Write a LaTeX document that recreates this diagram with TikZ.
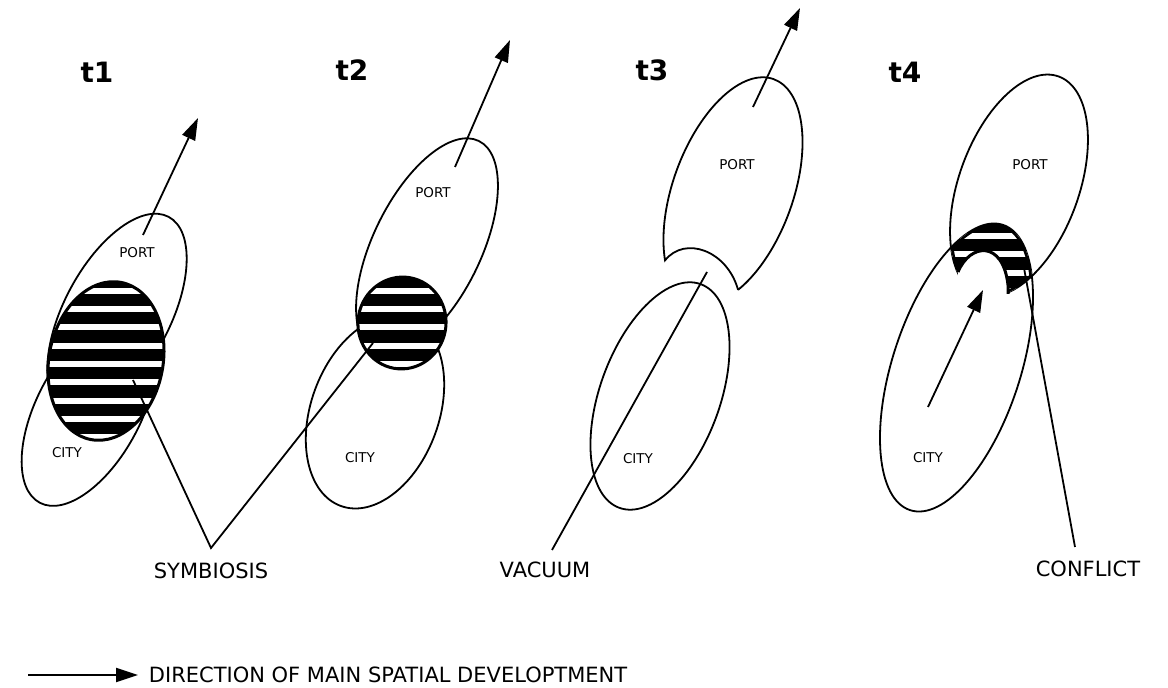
\documentclass[tikz,border=0pt]{standalone}
\usepackage{fontspec}
\setmainfont{DejaVu Sans}
\usetikzlibrary{arrows.meta,positioning}
\newcommand{\bands}{\foreach \k in {0,...,12} \draw[band] (0,452-18.3*\k) -- (1168,452-18.3*\k);}
\begin{document}
\begin{tikzpicture}[x=1pt,y=1pt,line width=1.8pt,
lbl/.style={inner sep=0pt,font=\fontsize{21}{24}\selectfont},
tag/.style={inner sep=0pt,font=\fontsize{13.5}{16}\selectfont},
stage/.style={inner sep=0pt,font=\bfseries\fontsize{28}{32}\selectfont},
arr/.style={-{Triangle[length=22pt,width=14pt]}},
band/.style={white,line width=6pt},
rim/.style={line width=3pt}]
\useasboundingbox (0,0) rectangle (1168,688);
\node[stage] (tA) at (97,616) {t1};
\node[stage] (tB) at (352,618) {t2};
\node[stage] (tC) at (652,618) {t3};
\node[stage] (tD) at (905,616) {t4};
\draw[rotate around={62:(117,374)}] (117,374) ellipse [x radius=110,y radius=53];
\draw[rotate around={62:(89,278)}] (89,278) ellipse [x radius=105,y radius=52];
\fill[rotate around={79:(106,327)}] (106,327) ellipse [x radius=80,y radius=57];
\begin{scope}\clip[rotate around={79:(106,327)}] (106,327) ellipse [x radius=80,y radius=57];\bands\end{scope}
\draw[rim,rotate around={79:(106,327)}] (106,327) ellipse [x radius=80,y radius=57];
\draw[rotate around={64:(427,441)}] (427,441) ellipse [x radius=118,y radius=54];
\draw[rotate around={70:(375,276)}] (375,276) ellipse [x radius=100,y radius=64];
\fill[rotate around={80:(402,365)}] (402,365) ellipse [x radius=46,y radius=44];
\begin{scope}\clip[rotate around={80:(402,365)}] (402,365) ellipse [x radius=46,y radius=44];\bands\end{scope}
\draw[rim,rotate around={80:(402,365)}] (402,365) ellipse [x radius=46,y radius=44];
\draw[shift={(733,497)},rotate=70] (220:119 and 60) arc[start angle=220,end angle=498,x radius=119,y radius=60] .. controls (-58,30) and (-58,-15) .. (220:119 and 60);
\draw[rotate around={70:(660,292)}] (660,292) ellipse [x radius=119,y radius=60];
\draw[rotate around={70:(1019,502.5)}] (1019,502.5) ellipse [x radius=116,y radius=60];
\draw[rotate around={72:(956.5,320.5)}] (956.5,320.5) ellipse [x radius=150,y radius=64];
\begin{scope}
\clip[rotate around={70:(1019,502.5)}] (1019,502.5) ellipse [x radius=116,y radius=60];
\clip[rotate around={72:(956.5,320.5)}] (956.5,320.5) ellipse [x radius=150,y radius=64];
\fill (900,380) rectangle (1100,480);
\bands
\draw[line width=5pt,rotate around={70:(1019,502.5)}] (1019,502.5) ellipse [x radius=116,y radius=60];
\draw[line width=5pt,rotate around={72:(956.5,320.5)}] (956.5,320.5) ellipse [x radius=150,y radius=64];
\end{scope}
\fill[white] (958,416) .. controls (970,445) and (1003,448) .. (1008,403) -- (1008,380) -- (958,380) -- cycle;
\draw[rim] (958,416) .. controls (970,445) and (1003,448) .. (1008,403) -- (1008,394);
\node[tag] (portA) at (137,435) {PORT};
\node[tag] (cityA) at (67,235) {CITY};
\node[tag] (portB) at (433,495) {PORT};
\node[tag] (cityB) at (360,230) {CITY};
\node[tag] (portC) at (737,523) {PORT};
\node[tag] (cityC) at (638,229) {CITY};
\node[tag] (portD) at (1030,523) {PORT};
\node[tag] (cityD) at (928,230) {CITY};
\coordinate (devA) at (143,453); \coordinate (topA) at (198,570);
\coordinate (devB) at (455,521); \coordinate (topB) at (510,648);
\coordinate (devC) at (753,581); \coordinate (topC) at (800,680);
\coordinate (devD) at (928,281); \coordinate (topD) at (983,398);
\draw[arr](devA)--(topA);\draw[arr](devB)--(topB);\draw[arr](devC)--(topC);\draw[arr](devD)--(topD);
\coordinate (symA) at (133,308); \coordinate (symB) at (373,345); \coordinate (symV) at (211,140);
\draw (symA)--(symV)--(symB);
\node[lbl,below=14pt of symV] (symb) {SYMBIOSIS};
\coordinate (vacA) at (707,416); \coordinate (vacV) at (552,138);
\draw (vacA)--(vacV);
\node[lbl] (vac) at (545,118) {VACUUM};
\coordinate (confA) at (1024,420); \coordinate (confV) at (1075,141);
\draw (confA)--(confV);
\node[lbl] (conf) at (1088,119) {CONFLICT};
\coordinate (keyA) at (28,13); \coordinate (keyB) at (138,13);
\draw[arr](keyA)--(keyB);
\node[lbl,right=10pt of keyB] (key) {DIRECTION OF MAIN SPATIAL DEVELOPTMENT};
\end{tikzpicture}
\end{document}
